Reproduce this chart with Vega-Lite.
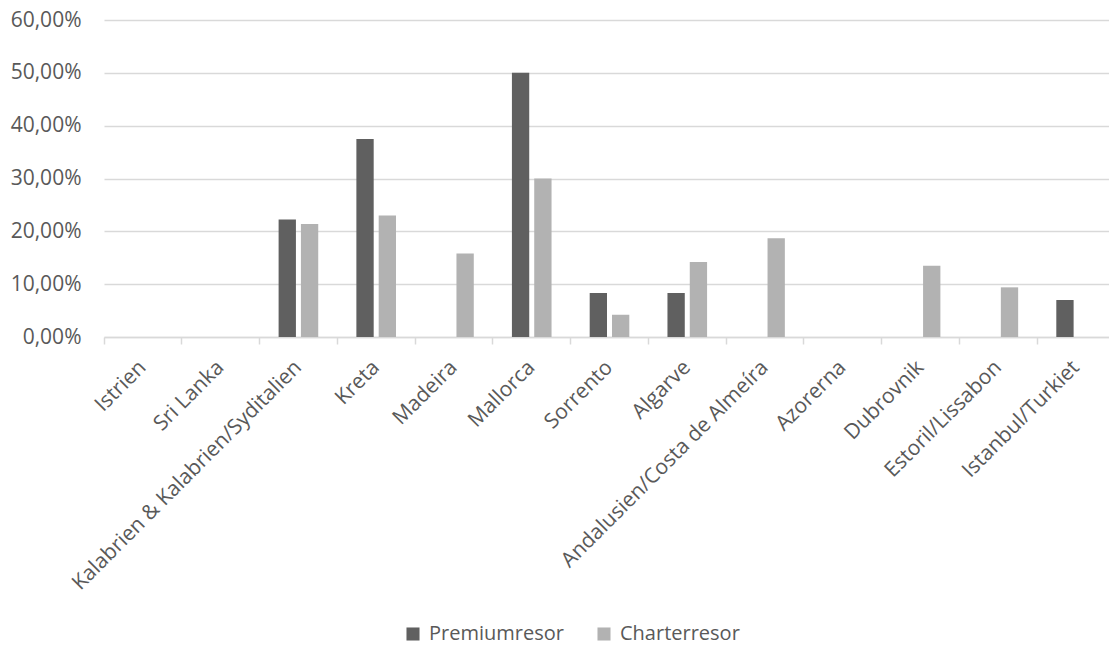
{
  "$schema": "https://vega.github.io/schema/vega-lite/v6.json",
  "width": 1004,
  "height": 317,
  "autosize": {"type": "none"},
  "padding": {"left": 104, "top": 20, "right": 1, "bottom": 311},
  "background": "white",
  "config": {
    "view": {"stroke": null},
    "font": "Open Sans"
  },
  "data": {
    "values": [
      {"dest": "Istrien", "serie": "Premiumresor", "v": 0},
      {"dest": "Istrien", "serie": "Charterresor", "v": 0},
      {"dest": "Sri Lanka", "serie": "Premiumresor", "v": 0},
      {"dest": "Sri Lanka", "serie": "Charterresor", "v": 0},
      {"dest": "Kalabrien & Kalabrien/Syditalien", "serie": "Premiumresor", "v": 0.2222},
      {"dest": "Kalabrien & Kalabrien/Syditalien", "serie": "Charterresor", "v": 0.214},
      {"dest": "Kreta", "serie": "Premiumresor", "v": 0.375},
      {"dest": "Kreta", "serie": "Charterresor", "v": 0.23},
      {"dest": "Madeira", "serie": "Premiumresor", "v": 0},
      {"dest": "Madeira", "serie": "Charterresor", "v": 0.158},
      {"dest": "Mallorca", "serie": "Premiumresor", "v": 0.5},
      {"dest": "Mallorca", "serie": "Charterresor", "v": 0.3},
      {"dest": "Sorrento", "serie": "Premiumresor", "v": 0.0833},
      {"dest": "Sorrento", "serie": "Charterresor", "v": 0.042},
      {"dest": "Algarve", "serie": "Premiumresor", "v": 0.0833},
      {"dest": "Algarve", "serie": "Charterresor", "v": 0.142},
      {"dest": "Andalusien/Costa de Almeíra", "serie": "Premiumresor", "v": 0},
      {"dest": "Andalusien/Costa de Almeíra", "serie": "Charterresor", "v": 0.187},
      {"dest": "Azorerna", "serie": "Premiumresor", "v": 0},
      {"dest": "Azorerna", "serie": "Charterresor", "v": 0},
      {"dest": "Dubrovnik", "serie": "Premiumresor", "v": 0},
      {"dest": "Dubrovnik", "serie": "Charterresor", "v": 0.135},
      {"dest": "Estoril/Lissabon", "serie": "Premiumresor", "v": 0},
      {"dest": "Estoril/Lissabon", "serie": "Charterresor", "v": 0.094},
      {"dest": "Istanbul/Turkiet", "serie": "Premiumresor", "v": 0.07},
      {"dest": "Istanbul/Turkiet", "serie": "Charterresor", "v": 0}
    ]
  },
  "mark": {"type": "bar"},
  "encoding": {
    "x": {
      "field": "dest",
      "type": "nominal",
      "sort": null,
      "scale": {"type": "band", "paddingInner": 0, "paddingOuter": 0, "range": [0, 1011]},
      "axis": {
        "title": null,
        "bandPosition": 0,
        "labelAngle": -45,
        "labelAlign": "right",
        "labelBaseline": "middle",
        "labelPadding": 20,
        "labelOffset": 0,
        "labelFontSize": 21,
        "labelColor": "#595959",
        "labelFont": "Open Sans",
        "labelLimit": 400,
        "domainColor": "#d9d9d9",
        "domainWidth": 1.5,
        "tickColor": "#d9d9d9",
        "tickWidth": 1.5,
        "tickSize": 7,
        "grid": false
      }
    },
    "xOffset": {
      "field": "serie",
      "type": "nominal",
      "sort": ["Premiumresor", "Charterresor"],
      "scale": {"paddingInner": 0.224, "paddingOuter": 0.855}
    },
    "y": {
      "field": "v",
      "type": "quantitative",
      "scale": {"domain": [0, 0.6], "nice": false},
      "axis": {
        "title": null,
        "values": [0, 0.1, 0.2, 0.3, 0.4, 0.5, 0.6],
        "labelExpr": "replace(format(datum.value, '.2%'), '.', ',')",
        "labelFontSize": 21,
        "labelColor": "#595959",
        "labelFont": "Open Sans",
        "labelPadding": 23,
        "domain": false,
        "ticks": false,
        "grid": true,
        "gridColor": "#d9d9d9",
        "gridWidth": 1.5
      }
    },
    "color": {
      "field": "serie",
      "type": "nominal",
      "sort": ["Premiumresor", "Charterresor"],
      "scale": {"domain": ["Premiumresor", "Charterresor"], "range": ["#606060", "#b2b2b2"]},
      "legend": {
        "title": null,
        "orient": "none",
        "legendX": 299,
        "legendY": 604,
        "direction": "horizontal",
        "symbolType": "square",
        "symbolSize": 170,
        "symbolStrokeWidth": 0,
        "labelFontSize": 20,
        "labelColor": "#595959",
        "labelFont": "Open Sans",
        "labelOffset": 6,
        "columnPadding": 30
      }
    }
  }
}
